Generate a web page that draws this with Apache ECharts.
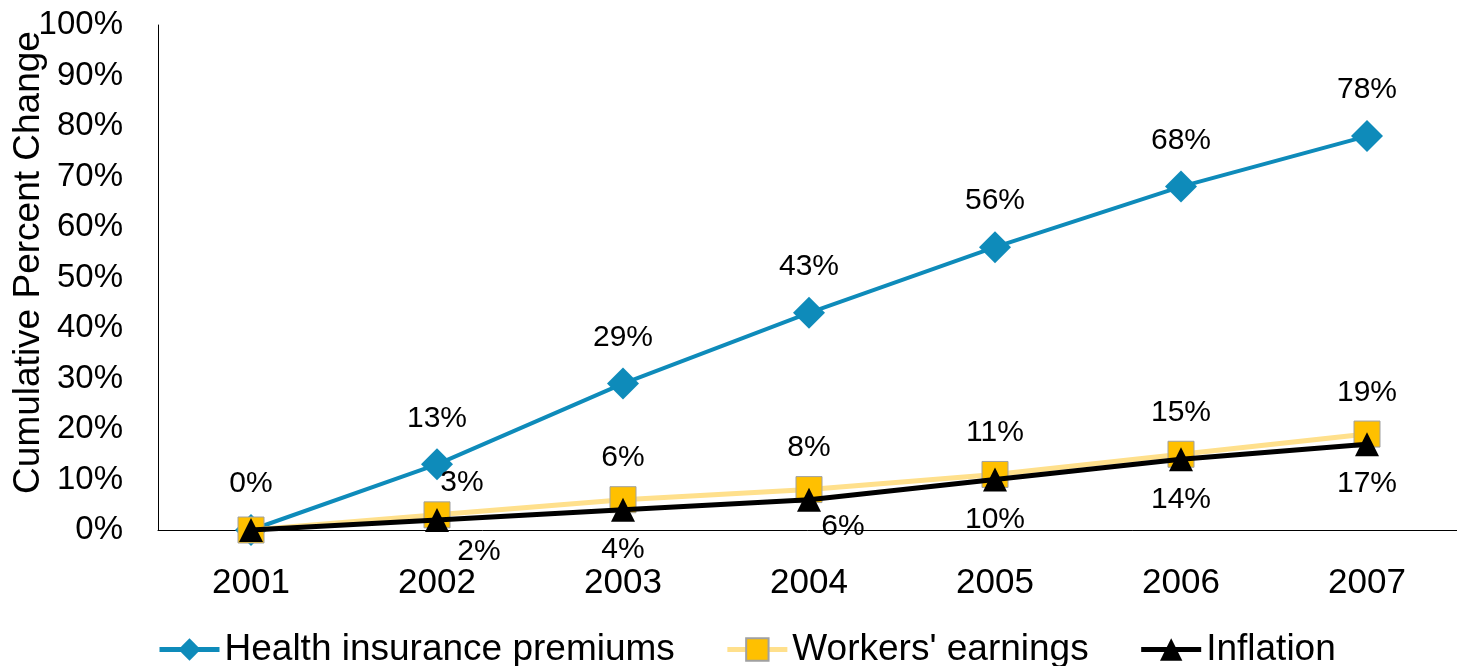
<!DOCTYPE html>
<html>
<head>
<meta charset="utf-8">
<script src="https://cdn.jsdelivr.net/npm/echarts@6/dist/echarts.min.js"></script>
<style>
  html, body { margin: 0; padding: 0; background: #fff; }
  #chart { width: 1457px; height: 666px; }
</style>
</head>
<body>
<div id="chart"></div>
<script>
// data (cumulative % change since 2001)
var years = ['2001', '2002', '2003', '2004', '2005', '2006', '2007'];
var premiums = [0, 13, 29, 43, 56, 68, 78];
var earnings = [0, 3, 6, 8, 11, 15, 19];
var inflation = [0, 2, 4, 6, 10, 14, 17];
var yTicks = [0, 10, 20, 30, 40, 50, 60, 70, 80, 90, 100];

var FONT = '"Liberation Sans", Arial, sans-serif';

// a few labels in the original are nudged sideways to avoid overlaps
var earningsNudge = { 1: [25, 9] };
var inflationNudge = { 1: [42, -8], 3: [34, -13] };

function points(values, nudge, hideFirst) {
  return values.map(function (v, i) {
    var item = { value: v };
    if (hideFirst && i === 0) item.label = { show: false };
    else if (nudge[i]) item.label = { offset: nudge[i] };
    return item;
  });
}

var labelBase = {
  show: true,
  formatter: '{c}%',
  color: '#000',
  fontFamily: FONT,
  fontSize: 30
};

var chart = echarts.init(document.getElementById('chart'), null, { renderer: 'canvas' });

chart.setOption({
  animation: false,
  backgroundColor: '#fff',
  grid: { left: 158, top: 25, width: 1302, bottom: 136, outerBoundsMode: 'none', containLabel: false },
  legend: {
    left: 152,
    top: 626,
    itemWidth: 60,
    itemHeight: 28,
    itemGap: 50,
    lineStyle: { width: 5 },
    textStyle: { fontFamily: FONT, fontSize: 37, color: '#000' },
    data: ['Health insurance premiums', "Workers' earnings", 'Inflation']
  },
  xAxis: {
    type: 'category',
    data: years,
    boundaryGap: true,
    axisLine: { lineStyle: { color: '#000', width: 1 } },
    axisTick: { show: false },
    axisLabel: { color: '#000', fontFamily: FONT, fontSize: 35, margin: 36 }
  },
  yAxis: {
    type: 'value',
    min: yTicks[0],
    max: yTicks[yTicks.length - 1],
    interval: yTicks[1] - yTicks[0],
    name: 'Cumulative Percent Change',
    nameLocation: 'middle',
    nameGap: 111,
    nameMoveOverlap: false,
    nameTextStyle: { color: '#000', fontFamily: FONT, fontSize: 37, padding: [0, 0, 0, 30] },
    axisLine: { show: true, lineStyle: { color: '#000', width: 1 } },
    axisTick: { show: false },
    splitLine: { show: false },
    axisLabel: { color: '#000', fontFamily: FONT, fontSize: 33, margin: 35, formatter: '{value}%' }
  },
  series: [
    {
      name: 'Health insurance premiums',
      type: 'line',
      data: points(premiums, {}, false),
      symbol: 'diamond',
      symbolSize: 32,
      color: '#0E8BBA',
      lineStyle: { color: '#0E8BBA', width: 4 },
      itemStyle: { color: '#0E8BBA' },
      label: Object.assign({}, labelBase, { position: 'top', distance: 15 }),
      z: 2
    },
    {
      name: "Workers' earnings",
      type: 'line',
      data: points(earnings, earningsNudge, true),
      symbol: 'rect',
      symbolSize: 26,
      color: '#FFC000',
      lineStyle: { color: '#FFE08C', width: 5 },
      itemStyle: { color: '#FFC000', borderColor: '#A0A0A0', borderWidth: 1 },
      label: Object.assign({}, labelBase, { position: 'top', distance: 13 }),
      z: 3
    },
    {
      name: 'Inflation',
      type: 'line',
      data: points(inflation, inflationNudge, true),
      symbol: 'triangle',
      symbolSize: 24,
      color: '#000',
      lineStyle: { color: '#000', width: 5 },
      itemStyle: { color: '#000' },
      label: Object.assign({}, labelBase, { position: 'bottom', distance: 13 }),
      z: 4
    }
  ]
});
</script>
</body>
</html>
